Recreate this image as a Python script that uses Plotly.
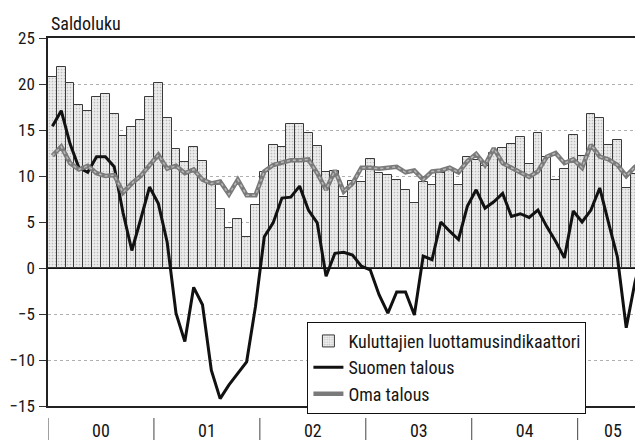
import plotly.graph_objects as go

# ---- data (monthly, Jan 2000 - Aug 2005) ----
year_labels = ["00", "01", "02", "03", "04", "05"]

kuluttajien = [
    20.8, 21.8, 20.1, 17.7, 17.1, 18.6, 18.9, 16.7, 14.3, 15.3, 16.1, 18.6,   # 2000
    20.1, 16.3, 12.9, 11.5, 13.1, 11.6, 9.4, 6.4, 4.3, 5.3, 3.4, 6.8,         # 2001
    10.4, 13.4, 13.2, 15.7, 15.6, 14.7, 13.3, 10.4, 10.5, 7.7, 9.5, 9.4,      # 2002
    11.9, 10.3, 10.1, 9.6, 8.5, 7.1, 9.3, 9.0, 10.3, 10.8, 9.0, 12.1,         # 2003
    11.7, 11.1, 12.5, 13.0, 13.5, 14.2, 11.3, 14.7, 12.1, 9.6, 10.8, 14.5,    # 2004
    12.2, 16.7, 16.3, 13.4, 13.9, 8.7, 10.2, 13.5,                            # 2005
]

suomen_talous = [
    15.4, 17.1, 13.5, 10.9, 10.4, 12.1, 12.1, 11.0, 6.0, 1.9, 5.3, 8.8,
    7.0, 2.8, -4.9, -8.0, -2.1, -4.0, -11.1, -14.2, -12.7, -11.4, -10.2, -4.2,
    3.4, 4.9, 7.6, 7.7, 8.9, 6.3, 4.9, -0.9, 1.6, 1.7, 1.4, 0.2,
    -0.2, -2.9, -4.9, -2.6, -2.6, -5.1, 1.3, 0.9, 5.0, 4.0, 3.1, 6.7,
    8.5, 6.5, 7.2, 8.1, 5.6, 5.9, 5.5, 6.3, 4.5, 2.9, 1.1, 6.2,
    5.0, 6.3, 8.7, 4.9, 1.2, -6.5, -1.5, 2.0,
]

oma_talous = [
    12.2, 13.2, 11.4, 10.7, 11.1, 10.3, 10.0, 10.1, 8.2, 9.2, 10.0, 11.1,
    12.3, 10.8, 11.1, 10.3, 10.7, 9.6, 9.2, 9.4, 8.0, 9.6, 7.9, 7.9,
    10.5, 11.2, 11.5, 11.7, 11.7, 11.8, 10.3, 8.5, 10.6, 8.3, 9.2, 10.9,
    10.9, 10.8, 10.9, 11.0, 10.4, 10.6, 9.6, 10.5, 10.6, 10.9, 10.4, 11.6,
    12.4, 11.2, 13.0, 11.4, 10.9, 10.4, 9.9, 10.5, 12.1, 12.5, 11.4, 11.8,
    10.9, 13.4, 12.1, 11.8, 11.2, 10.0, 11.0, 11.6,
]

months = list(range(len(kuluttajien)))
n_months = len(months)

# year label positions: centre of each year's months present
year_starts = list(range(0, n_months, 12))
year_centres = [(s + min(s + 12, n_months) - 1) / 2 for s in year_starts]
year_bounds = [s - 0.5 for s in year_starts]

FONT = "Liberation Sans Narrow, Arial Narrow, Roboto Condensed, DejaVu Sans Condensed, sans-serif"
TXT = "#151515"

fig = go.Figure()

fig.add_trace(go.Bar(
    x=months, y=kuluttajien, name="Kuluttajien luottamusindikaattori",
    marker=dict(color="#e2e2e2", line=dict(color="#3a3a3a", width=1),
                pattern=dict(shape=".", fgcolor="#8c8c8c", bgcolor="#ececec",
                             size=3, solidity=0.25)),
))
fig.add_trace(go.Scatter(
    x=months, y=suomen_talous, name="Suomen talous", mode="lines",
    line=dict(color="#111111", width=3),
))
fig.add_trace(go.Scatter(
    x=months, y=oma_talous, name="Oma talous", mode="lines",
    line=dict(color="#7a7a7a", width=4.5),
))
fig.add_trace(go.Scatter(
    x=months, y=oma_talous, name="Oma talous", mode="lines", showlegend=False,
    line=dict(color="#b8b8b8", width=1.5, dash="dot"), hoverinfo="skip",
))

shapes = []
for b in year_bounds:
    shapes.append(dict(type="line", xref="x", yref="paper", x0=b, x1=b,
                       y0=-0.0326, y1=-0.0924,
                       line=dict(color="#444444", width=1)))

# page body has an 8px default margin: figure is 635x432 so it fits the 643x440 window
fig.update_layout(
    width=635, height=432,
    margin=dict(l=40, r=0, t=30, b=34, pad=0),
    paper_bgcolor="white", plot_bgcolor="white",
    font=dict(family=FONT, size=18, color=TXT),
    bargap=0,
    showlegend=True,
    legend=dict(x=0.436, y=0.229, xanchor="left", yanchor="top",
                bgcolor="white", bordercolor="#111111", borderwidth=1,
                font=dict(family=FONT, size=18, color=TXT),
                tracegroupgap=0, itemwidth=30),
    shapes=shapes,
    annotations=[dict(text="Saldoluku", xref="paper", yref="paper",
                      x=0.002, y=1, xanchor="left", yanchor="bottom", yshift=2,
                      showarrow=False,
                      font=dict(family=FONT, size=18, color=TXT))],
)

fig.update_xaxes(
    automargin=False,
    range=[-0.5, 66.9],
    tickmode="array", tickvals=year_centres, ticktext=year_labels,
    ticks="outside", ticklen=8, tickcolor="rgba(0,0,0,0)",
    tickfont=dict(family=FONT, size=18, color=TXT),
    showline=True, mirror=True, linecolor="#222222", linewidth=1.5,
    showgrid=False, zeroline=False,
)
fig.update_yaxes(
    automargin=False,
    range=[-15, 25], tickmode="array", tickvals=list(range(-15, 30, 5)),
    ticks="outside", ticklen=7, tickcolor="#333333", ticklabelstandoff=1,
    tickfont=dict(family=FONT, size=17, color=TXT),
    showline=True, linecolor="#222222", linewidth=1.5,
    showgrid=True, gridcolor="#b0b0b0", griddash="dot", gridwidth=1,
    zeroline=True, zerolinecolor="#111111", zerolinewidth=1.5,
)

fig.write_html("out.html")
